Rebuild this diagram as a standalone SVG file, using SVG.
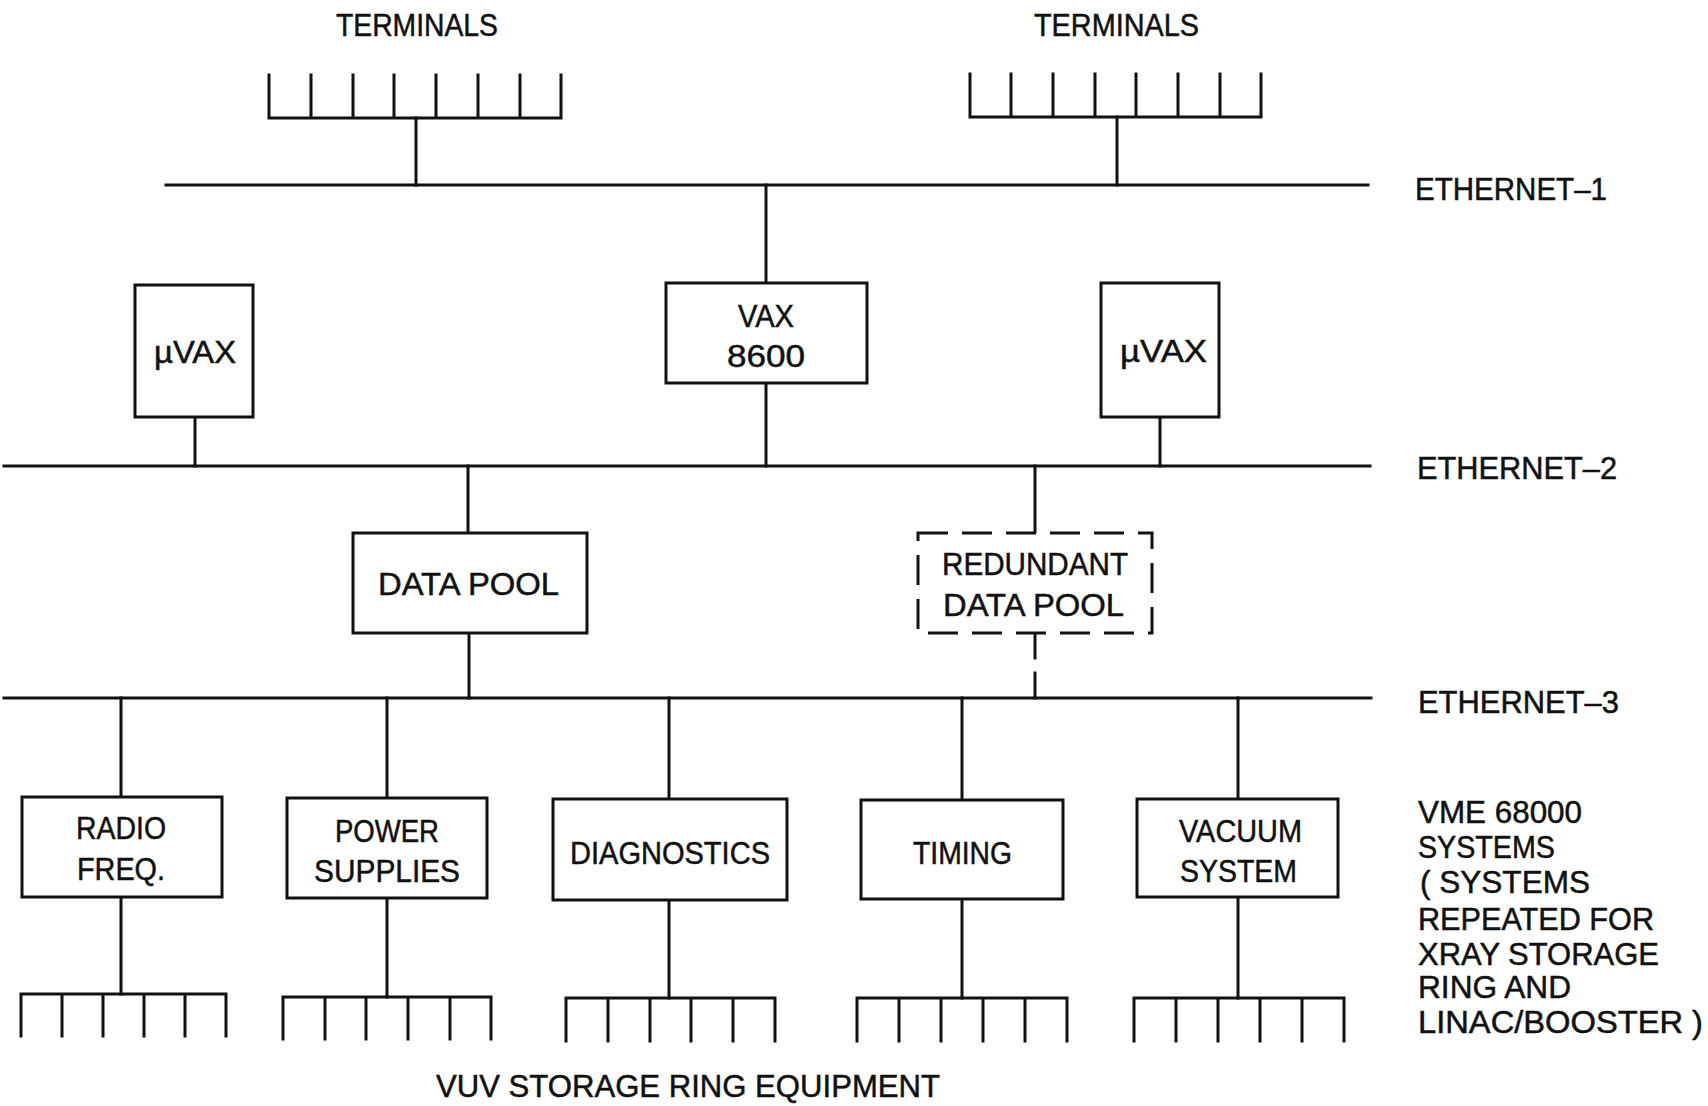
<svg xmlns="http://www.w3.org/2000/svg" width="1708" height="1106" viewBox="0 0 1708 1106">
<style>
.ln{stroke:#111;stroke-width:3;fill:none;stroke-linecap:square}
.bx{stroke:#111;stroke-width:3;fill:#fff}
.dbx{stroke:#111;stroke-width:3;fill:#fff;stroke-dasharray:30 14}
text{font-family:"Liberation Sans",Arial,sans-serif;font-size:31px;fill:#111;stroke:#111;stroke-width:0.5}
</style>
<rect width="1708" height="1106" fill="#fff"/>
<g id="connectors">
  <line class="ln" x1="166" y1="185" x2="1368" y2="185"/>
  <line class="ln" x1="4" y1="466" x2="1370" y2="466"/>
  <line class="ln" x1="4" y1="698" x2="1371" y2="698"/>
  <line class="ln" x1="416" y1="118" x2="416" y2="185"/>
  <line class="ln" x1="1117" y1="117" x2="1117" y2="185"/>
  <line class="ln" x1="766" y1="185" x2="766" y2="283"/>
  <line class="ln" x1="766" y1="383" x2="766" y2="466"/>
  <line class="ln" x1="195" y1="417" x2="195" y2="466"/>
  <line class="ln" x1="1160" y1="417" x2="1160" y2="466"/>
  <line class="ln" x1="468" y1="466" x2="468" y2="533"/>
  <line class="ln" x1="469" y1="633" x2="469" y2="698"/>
  <line class="ln" x1="1035" y1="466" x2="1035" y2="533"/>
  <line class="ln" x1="1035" y1="633" x2="1035" y2="658"/>
  <line class="ln" x1="1035" y1="673" x2="1035" y2="698"/>
  <line class="ln" x1="121" y1="698" x2="121" y2="797"/>
  <line class="ln" x1="121" y1="897" x2="121" y2="994"/>
  <line class="ln" x1="387" y1="698" x2="387" y2="798"/>
  <line class="ln" x1="387" y1="898" x2="387" y2="997"/>
  <line class="ln" x1="669" y1="698" x2="669" y2="799"/>
  <line class="ln" x1="669" y1="900" x2="669" y2="998"/>
  <line class="ln" x1="962" y1="698" x2="962" y2="800"/>
  <line class="ln" x1="962" y1="899" x2="962" y2="998"/>
  <line class="ln" x1="1238" y1="698" x2="1238" y2="799"/>
  <line class="ln" x1="1238" y1="897" x2="1238" y2="998"/>
</g>
<g id="terminals-left">
  <text x="336" y="36" textLength="162" lengthAdjust="spacingAndGlyphs">TERMINALS</text>
  <path class="ln" d="M269 75V118H561V75M311 75V118M353 75V118M394 75V118M436 75V118M478 75V118M520 75V118"/>
</g>
<g id="terminals-right">
  <text x="1034" y="36" textLength="165" lengthAdjust="spacingAndGlyphs">TERMINALS</text>
  <path class="ln" d="M970 74V117H1261V74M1011 74V117M1053 74V117M1095 74V117M1136 74V117M1178 74V117M1220 74V117"/>
</g>
<g id="ethernet-1-label"><text x="1415" y="200" textLength="192" lengthAdjust="spacingAndGlyphs">ETHERNET–1</text></g>
<g id="ethernet-2-label"><text x="1417" y="479" textLength="200" lengthAdjust="spacingAndGlyphs">ETHERNET–2</text></g>
<g id="ethernet-3-label"><text x="1418" y="713" textLength="201" lengthAdjust="spacingAndGlyphs">ETHERNET–3</text></g>
<g id="uvax-left">
  <rect class="bx" x="135" y="285" width="118" height="132"/>
  <text x="154" y="363" textLength="82" lengthAdjust="spacingAndGlyphs">µVAX</text>
</g>
<g id="vax8600">
  <rect class="bx" x="666" y="283" width="201" height="100"/>
  <text x="738" y="327" textLength="56" lengthAdjust="spacingAndGlyphs">VAX</text>
  <text x="727" y="367" textLength="78" lengthAdjust="spacingAndGlyphs">8600</text>
</g>
<g id="uvax-right">
  <rect class="bx" x="1101" y="283" width="118" height="134"/>
  <text x="1120" y="362" textLength="87" lengthAdjust="spacingAndGlyphs">µVAX</text>
</g>
<g id="data-pool">
  <rect class="bx" x="353" y="533" width="234" height="100"/>
  <text x="378" y="595" textLength="181" lengthAdjust="spacingAndGlyphs">DATA POOL</text>
</g>
<g id="redundant-data-pool">
  <rect class="dbx" x="918" y="533" width="234" height="100"/>
  <text x="942" y="575" textLength="186" lengthAdjust="spacingAndGlyphs">REDUNDANT</text>
  <text x="943" y="616" textLength="181" lengthAdjust="spacingAndGlyphs">DATA POOL</text>
</g>
<g id="radio-freq">
  <rect class="bx" x="22" y="797" width="200" height="100"/>
  <text x="76" y="839" textLength="90" lengthAdjust="spacingAndGlyphs">RADIO</text>
  <text x="77" y="880" textLength="88" lengthAdjust="spacingAndGlyphs">FREQ.</text>
  <path class="ln" d="M21 1036V994H226V1036M62 994V1036M103 994V1036M144 994V1036M185 994V1036"/>
</g>
<g id="power-supplies">
  <rect class="bx" x="287" y="798" width="200" height="100"/>
  <text x="335" y="842" textLength="104" lengthAdjust="spacingAndGlyphs">POWER</text>
  <text x="314" y="882" textLength="146" lengthAdjust="spacingAndGlyphs">SUPPLIES</text>
  <path class="ln" d="M283 1039V997H491V1039M325 997V1039M366 997V1039M408 997V1039M450 997V1039"/>
</g>
<g id="diagnostics">
  <rect class="bx" x="553" y="799" width="234" height="101"/>
  <text x="570" y="864" textLength="200" lengthAdjust="spacingAndGlyphs">DIAGNOSTICS</text>
  <path class="ln" d="M566 1041V998H775V1041M608 998V1041M650 998V1041M691 998V1041M733 998V1041"/>
</g>
<g id="timing">
  <rect class="bx" x="861" y="800" width="202" height="99"/>
  <text x="913" y="864" textLength="99" lengthAdjust="spacingAndGlyphs">TIMING</text>
  <path class="ln" d="M857 1041V998H1067V1041M899 998V1041M941 998V1041M983 998V1041M1025 998V1041"/>
</g>
<g id="vacuum-system">
  <rect class="bx" x="1137" y="799" width="201" height="98"/>
  <text x="1179" y="842" textLength="123" lengthAdjust="spacingAndGlyphs">VACUUM</text>
  <text x="1180" y="882" textLength="117" lengthAdjust="spacingAndGlyphs">SYSTEM</text>
  <path class="ln" d="M1134 1041V998H1344V1041M1176 998V1041M1218 998V1041M1260 998V1041M1302 998V1041"/>
</g>
<g id="vme-note">
  <text x="1418" y="823" textLength="164" lengthAdjust="spacingAndGlyphs">VME 68000</text>
  <text x="1418" y="858" textLength="137" lengthAdjust="spacingAndGlyphs">SYSTEMS</text>
  <text x="1420" y="893" textLength="170" lengthAdjust="spacingAndGlyphs">( SYSTEMS</text>
  <text x="1418" y="930" textLength="236" lengthAdjust="spacingAndGlyphs">REPEATED FOR</text>
  <text x="1418" y="965" textLength="241" lengthAdjust="spacingAndGlyphs">XRAY STORAGE</text>
  <text x="1418" y="998" textLength="153" lengthAdjust="spacingAndGlyphs">RING AND</text>
  <text x="1418" y="1033" textLength="285" lengthAdjust="spacingAndGlyphs">LINAC/BOOSTER )</text>
</g>
<g id="vuv-label">
  <text x="436" y="1097" textLength="504" lengthAdjust="spacingAndGlyphs">VUV STORAGE RING EQUIPMENT</text>
</g>
</svg>
